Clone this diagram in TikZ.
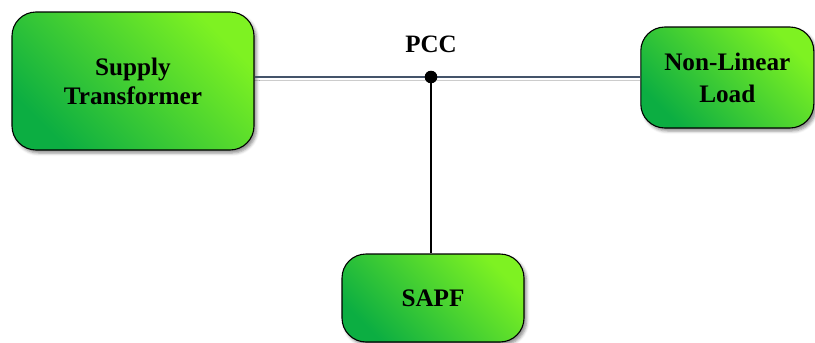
\documentclass[tikz,border=0pt]{standalone}
\usepackage{fontspec}
\setmainfont{Liberation Serif}
\usetikzlibrary{shadows.blur}
\definecolor{gdark}{HTML}{0CAE42}
\definecolor{glight}{HTML}{7EF222}
\definecolor{busline}{HTML}{44546A}
\begin{document}
\begin{tikzpicture}[x=1pt,y=-1pt,
  block/.style={draw=black, line width=1.1pt, rounded corners=24pt,
    bottom color=gdark, top color=glight, shading angle=-45,
    blur shadow={shadow xshift=2.5pt, shadow yshift=-3pt, shadow blur radius=3pt, shadow opacity=45},
    align=center, inner sep=0pt,
    font=\fontsize{25.2}{29}\selectfont\bfseries},
  bus/.style={line width=1.8pt, draw=busline},
  busshade/.style={line width=1.6pt, draw=black!20},
  feeder/.style={line width=1.3pt, draw=black},
  label/.style={font=\fontsize{25}{30}\selectfont\bfseries, inner sep=0pt}
]
\useasboundingbox (0,0) rectangle (815,343);

% main bus shadow, drawn first
\coordinate (bl) at (254,80.5);
\coordinate (br) at (640,80.5);
\draw[busshade] (bl) -- (br);

\node[block, minimum width=242pt, minimum height=138pt] (st) at (133,81) {\raisebox{-3pt}{\shortstack{Supply\\[3pt]Transformer}}};
\node[block, minimum width=173pt, minimum height=101pt] (nll) at (727.3,77.5) {Non-Linear\\[3pt]Load};
\node[block, minimum width=182pt, minimum height=88pt] (sapf) at (433,298) {SAPF};

\coordinate (pcc) at (431,77);

% bus between transformer and load, feeder to the filter
\draw[bus] (st.east |- pcc) -- (pcc) -- (nll.west |- pcc);
\draw[feeder] (pcc) -- (pcc |- sapf.north);
\fill[black] (pcc) circle (6.3pt);
\node[label, anchor=base] (pcclabel) at (431,52) {PCC};
\end{tikzpicture}
\end{document}
